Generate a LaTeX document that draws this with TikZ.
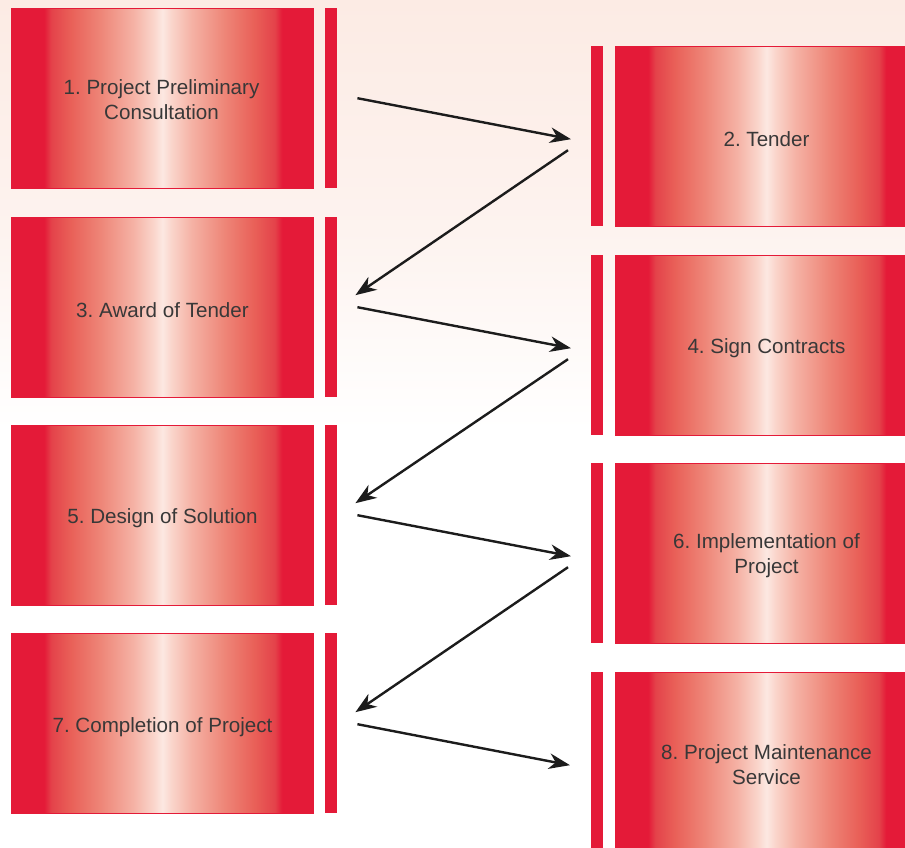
\documentclass[tikz,border=0pt]{standalone}
\usepackage{fontspec}
\setmainfont{Liberation Sans}
\usetikzlibrary{arrows.meta,calc}

% palette
\definecolor{boxred}{HTML}{E41A38}
\definecolor{shA}{HTML}{E4424A}
\definecolor{shB}{HTML}{E96058}
\definecolor{shC}{HTML}{EE8678}
\definecolor{shD}{HTML}{F5B2A5}
\definecolor{shE}{HTML}{FAD5CB}
\definecolor{shF}{HTML}{FCE8E2}
\definecolor{bgtop}{HTML}{FCEBE4}
\definecolor{bgmid}{HTML}{FDF3EF}
\definecolor{labelgray}{HTML}{383838}
\definecolor{arrowblack}{HTML}{1C1C1C}

% metallic red band: solid edges, pale centre (node spans 25bp..75bp)
\pgfdeclarehorizontalshading{redband}{100bp}{%
  color(0bp)=(boxred); color(30.4bp)=(boxred); color(31.6bp)=(shA);
  color(34.8bp)=(shB); color(39.8bp)=(shC); color(45.2bp)=(shD);
  color(48.5bp)=(shE); color(50bp)=(shF); color(51.5bp)=(shE);
  color(54.8bp)=(shD); color(60.2bp)=(shC); color(65.2bp)=(shB);
  color(68.6bp)=(shA); color(69.8bp)=(boxred); color(100bp)=(boxred)}

\tikzset{
  stepbox/.style={shading=redband, draw=boxred, line width=1pt,
    minimum width=302pt, minimum height=180pt, inner sep=0pt,
    anchor=north west},
  steptext/.style={align=center, text=labelgray, inner sep=0pt,
    font=\fontsize{20.6}{24.5}\selectfont\frenchspacing},
  sidebar/.style={fill=boxred, draw=none, minimum width=12pt,
    minimum height=180pt, inner sep=0pt, anchor=north west},
  flow/.style={draw=arrowblack, line width=2.4pt,
    -{Stealth[length=21pt,width=15.5pt,inset=6.5pt]}}
}

\begin{document}
\begin{tikzpicture}[x=1pt,y=-1pt]
\useasboundingbox (0,0) rectangle (905,848);
\clip (0,0) rectangle (905,848);

% soft pink wash fading to white
\fill[white] (0,0) rectangle (905,848);
\fill[top color=bgtop, bottom color=bgmid] (0,0) rectangle (905,230);
\fill[top color=bgmid, bottom color=white] (0,230) rectangle (905,430);

% left column
\node[stepbox] (box1) at (11,8)   {};
\node[stepbox] (box3) at (11,217) {};
\node[stepbox] (box5) at (11,425) {};
\node[stepbox] (box7) at (11,633) {};
\node[sidebar] (bar1) at (325,8)   {};
\node[sidebar] (bar3) at (325,217) {};
\node[sidebar] (bar5) at (325,425) {};
\node[sidebar] (bar7) at (325,633) {};

% right column
\node[stepbox] (box2) at (615,46)  {};
\node[stepbox] (box4) at (615,255) {};
\node[stepbox] (box6) at (615,463) {};
\node[stepbox] (box8) at (615,672) {};
\node[sidebar] (bar2) at (591,46)  {};
\node[sidebar] (bar4) at (591,255) {};
\node[sidebar] (bar6) at (591,463) {};
\node[sidebar] (bar8) at (591,672) {};

% step captions, set a little below each box centre
\node[steptext] (cap1) at ($(box1.center)+(-1,1)$) {1. Project Preliminary\\Consultation};
\node[steptext] (cap2) at ($(box2.center)+(0,3)$) {2. Tender};
\node[steptext] (cap3) at ($(box3.center)+(0,3)$) {3. Award of Tender};
\node[steptext] (cap4) at ($(box4.center)+(0,3)$) {4. Sign Contracts};
\node[steptext] (cap5) at ($(box5.center)+(0,3)$) {5. Design of Solution};
\node[steptext] (cap6) at ($(box6.center)+(0,2)$) {6. Implementation of\\Project};
\node[steptext] (cap7) at ($(box7.center)+(0,4)$) {7. Completion of Project};
\node[steptext] (cap8) at ($(box8.center)+(0,2)$) {8. Project Maintenance\\Service};

% arrow end points beside the bars
\coordinate (out1) at ($(bar1.east)+(20,0)$);
\coordinate (out3) at ($(bar3.east)+(20,0)$);
\coordinate (out5) at ($(bar5.east)+(20,0)$);
\coordinate (out7) at ($(bar7.east)+(20,1)$);
\coordinate (in2)  at ($(bar2.west)+(-20,3)$);
\coordinate (in4)  at ($(bar4.west)+(-20,3)$);
\coordinate (in6)  at ($(bar6.west)+(-20,3)$);
\coordinate (in8)  at ($(bar8.west)+(-21,3)$);
\coordinate (out2) at ($(bar2.west)+(-23,14)$);
\coordinate (out4) at ($(bar4.west)+(-23,14)$);
\coordinate (out6) at ($(bar6.west)+(-23,14)$);
\coordinate (in3)  at ($(bar3.east)+(18,-12)$);
\coordinate (in5)  at ($(bar5.east)+(18,-12)$);
\coordinate (in7)  at ($(bar7.east)+(18,-11)$);

% zig-zag flow
\draw[flow] (out1) -- (in2);
\draw[flow] (out2) -- (in3);
\draw[flow] (out3) -- (in4);
\draw[flow] (out4) -- (in5);
\draw[flow] (out5) -- (in6);
\draw[flow] (out6) -- (in7);
\draw[flow] (out7) -- (in8);
\end{tikzpicture}
\end{document}
